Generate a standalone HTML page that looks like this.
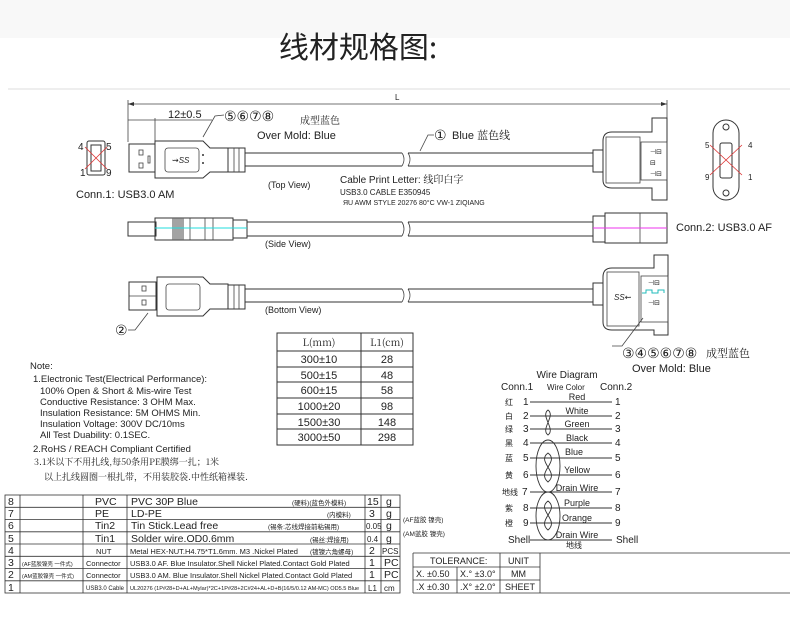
<!DOCTYPE html>
<html><head><meta charset="utf-8"><style>
html,body{margin:0;padding:0;background:#fff;}
svg{display:block;}
text{font-family:"Liberation Sans","DejaVu Sans","Noto Sans CJK SC",sans-serif;fill:#222;}
.cj{font-family:"Noto Serif CJK SC","Noto Sans CJK SC",serif;}
.s{fill:none;stroke:#333;stroke-width:1;}
.t{fill:none;stroke:#444;stroke-width:0.8;}
</style></head><body>
<svg width="790" height="618" viewBox="0 0 790 618" xmlns="http://www.w3.org/2000/svg">
<rect x="0" y="0" width="790" height="38" fill="#f8f8f8"/>
<text x="358" y="58" font-size="30" text-anchor="middle" style="font-family:'Noto Sans CJK SC',sans-serif" fill="#222">线材规格图:</text>
<line x1="8" y1="89" x2="790" y2="89" stroke="#ddd" stroke-width="1"/>

<line x1="128" y1="104" x2="667" y2="104" class="t"/>
<path d="M128,104 l6,-2 v4z M667,104 l-6,-2 v4z" fill="#333"/>
<text x="395" y="100" font-size="8">L</text>
<line x1="128" y1="100" x2="128" y2="142" class="t"/>
<line x1="667" y1="100" x2="667" y2="118" class="t"/>
<line x1="128" y1="120" x2="155" y2="120" class="t"/>
<line x1="155" y1="118" x2="155" y2="142" class="t"/>
<line x1="155" y1="120" x2="212" y2="120" class="t"/>
<text x="168" y="118" font-size="11">12±0.5</text>
<text x="224" y="121" font-size="14">⑤⑥⑦⑧</text>
<path d="M224,115 L215,116 L203,137" class="t"/>
<text x="300" y="124" font-size="10" class="cj">成型蓝色</text>
<text x="257" y="139" font-size="11">Over Mold: Blue</text>

<rect x="87" y="141" width="18" height="34" rx="2" class="s"/>
<rect x="91" y="145" width="10" height="26" class="s"/>
<path d="M85,147 L107,169 M107,147 L85,169" stroke="#d33" stroke-width="0.8"/>
<text x="78" y="150" font-size="10">4</text><text x="106" y="150" font-size="10">5</text>
<text x="80" y="176" font-size="10">1</text><text x="106" y="176" font-size="10">9</text>
<text x="76" y="198" font-size="11">Conn.1: USB3.0  AM</text>

<rect x="129" y="144" width="26" height="28" class="s"/>
<rect x="139" y="150" width="4" height="5" class="t"/><rect x="139" y="163" width="4" height="5" class="t"/><rect x="148" y="156" width="2" height="7" class="t"/>
<path d="M155,141 H203 L210,148 H228 V172 H210 L203,178 H155Z" class="s"/>
<rect x="165" y="148" width="34" height="24" rx="3" class="t"/>
<text x="172" y="163" font-size="8" font-style="italic">⇝SS</text>
<circle cx="203" cy="155" r="1" fill="#333"/><circle cx="203" cy="163" r="1" fill="#333"/>
<rect x="228" y="148" width="17" height="24" class="s"/>
<line x1="234" y1="148" x2="234" y2="172" class="t"/><line x1="239" y1="148" x2="239" y2="172" class="t"/>
<line x1="245" y1="153" x2="402" y2="153" class="s"/><line x1="245" y1="166" x2="402" y2="166" class="s"/>
<path d="M402,153 q4,6 0,13 M408,153 q4,6 0,13" class="t"/>
<line x1="408" y1="153" x2="593" y2="153" class="s"/><line x1="408" y1="166" x2="593" y2="166" class="s"/>
<text x="434" y="140" font-size="14">①</text><text x="452" y="139" font-size="11">Blue  <tspan class="cj">蓝色线</tspan></text>
<path d="M434,135 L428,135 L420,151" class="t"/>
<text x="268" y="188" font-size="9">(Top View)</text>
<text x="340" y="183" font-size="10">Cable Print Letter: <tspan class="cj">线印白字</tspan></text>
<text x="340" y="195" font-size="8">USB3.0 CABLE E350945</text>
<text x="343" y="205" font-size="7">ЯU AWM STYLE 20276 80°C VW-1 ZIQIANG</text>

<rect x="593" y="150" width="10" height="22" class="s"/>
<path d="M652,118 H667 V200 H652 V188 H612 Q603,188 603,180 V141 Q603,132 612,132 H652Z" class="s"/>
<rect x="606" y="137" width="34" height="46" class="t"/>
<rect x="641" y="142" width="26" height="38" class="t"/>
<text x="650" y="154" font-size="7">⊣⊟</text><text x="650" y="165" font-size="7">⊟</text><text x="650" y="176" font-size="7">⊣⊟</text>

<rect x="713" y="120" width="26" height="80" rx="13" class="s"/>
<circle cx="726" cy="127" r="3" class="s"/><circle cx="726" cy="193" r="3" class="s"/>
<rect x="720" y="143" width="12" height="35" rx="2" class="s"/>
<path d="M710,145 L742,175 M742,145 L710,175" stroke="#d33" stroke-width="0.8"/>
<text x="705" y="148" font-size="8">5</text><text x="748" y="148" font-size="8">4</text>
<text x="705" y="180" font-size="8">9</text><text x="748" y="180" font-size="8">1</text>

<rect x="128" y="222" width="28" height="14" class="s"/>
<rect x="155" y="218" width="78" height="22" class="s"/>
<rect x="172" y="218" width="12" height="22" fill="#666" opacity="0.6"/>
<line x1="190" y1="218" x2="190" y2="240" class="t"/><line x1="205" y1="218" x2="205" y2="240" class="t"/><line x1="213" y1="218" x2="213" y2="240" class="t"/>
<rect x="233" y="220" width="14" height="18" class="s"/>
<line x1="155" y1="228" x2="247" y2="228" stroke="#2dd" stroke-width="1"/>
<line x1="247" y1="222" x2="402" y2="222" class="s"/><line x1="247" y1="236" x2="402" y2="236" class="s"/>
<path d="M402,222 q4,7 0,14 M408,222 q4,7 0,14" class="t"/>
<line x1="408" y1="222" x2="593" y2="222" class="s"/><line x1="408" y1="236" x2="593" y2="236" class="s"/>
<rect x="593" y="216" width="12" height="26" class="s"/>
<rect x="605" y="213" width="62" height="30" class="s"/>
<line x1="640" y1="213" x2="640" y2="243" class="t"/>
<line x1="593" y1="228" x2="667" y2="228" stroke="#e3e" stroke-width="1"/>
<text x="265" y="247" font-size="9">(Side View)</text>
<text x="676" y="231" font-size="11">Conn.2: USB3.0  AF</text>

<rect x="129" y="282" width="27" height="28" class="s"/>
<line x1="129" y1="296" x2="156" y2="296" class="t"/>
<rect x="142" y="286" width="4" height="5" class="t"/><rect x="142" y="300" width="4" height="5" class="t"/>
<path d="M157,277 H203 L210,284 H228 V309 H210 L203,316 H157Z" class="s"/>
<rect x="166" y="284" width="34" height="26" rx="3" class="t"/>
<rect x="228" y="285" width="17" height="24" class="s"/>
<line x1="234" y1="285" x2="234" y2="309" class="t"/><line x1="239" y1="285" x2="239" y2="309" class="t"/>
<line x1="245" y1="289" x2="402" y2="289" class="s"/><line x1="245" y1="302" x2="402" y2="302" class="s"/>
<path d="M402,289 q4,6 0,13 M408,289 q4,6 0,13" class="t"/>
<line x1="408" y1="289" x2="593" y2="289" class="s"/><line x1="408" y1="302" x2="593" y2="302" class="s"/>
<text x="265" y="313" font-size="9">(Bottom View)</text>
<text x="115" y="335" font-size="14">②</text>
<path d="M128,330 L135,330 L148,313" class="t"/>
<rect x="593" y="283" width="10" height="22" class="s"/>
<path d="M654,255 H668 V335 H654 V330 H612 Q603,330 603,322 V277 Q603,268 612,268 H654Z" class="s"/>
<rect x="607" y="272" width="32" height="54" class="t"/>
<rect x="641" y="276" width="27" height="46" class="t"/>
<text x="614" y="300" font-size="8" font-style="italic">SS⇜</text>
<text x="648" y="285" font-size="7">⊣⊟</text><text x="648" y="305" font-size="7">⊣⊟</text>
<path d="M642,293 h4 v-3 h6 v3 h6 v-3 h6 v3" stroke="#2bb" fill="none" stroke-width="1"/>
<path d="M612,346 L622,346 L643,318" class="t"/>
<text x="622" y="358" font-size="14">③④⑤⑥⑦⑧</text><text x="706" y="357" font-size="11" class="cj">成型蓝色</text>
<text x="632" y="372" font-size="11">Over Mold: Blue</text>

<g>
<rect x="277" y="333" width="136" height="112" fill="none" stroke="#333"/>
<line x1="361" y1="333" x2="361" y2="445" stroke="#333"/>
<line x1="277" y1="351" x2="413" y2="351" stroke="#333"/>
<line x1="277" y1="367" x2="413" y2="367" stroke="#333"/>
<line x1="277" y1="382" x2="413" y2="382" stroke="#333"/>
<line x1="277" y1="398" x2="413" y2="398" stroke="#333"/>
<line x1="277" y1="414" x2="413" y2="414" stroke="#333"/>
<line x1="277" y1="429" x2="413" y2="429" stroke="#333"/>
</g>
<g font-size="11" text-anchor="middle">
<text x="319" y="346" class="cj" font-size="10">L(mm)</text><text x="387" y="346" class="cj" font-size="10">L1(cm)</text>
<text x="319" y="363">300±10</text><text x="387" y="363">28</text>
<text x="319" y="379">500±15</text><text x="387" y="379">48</text>
<text x="319" y="394">600±15</text><text x="387" y="394">58</text>
<text x="319" y="410">1000±20</text><text x="387" y="410">98</text>
<text x="319" y="426">1500±30</text><text x="387" y="426">148</text>
<text x="319" y="441">3000±50</text><text x="387" y="441">298</text>
</g>

<g font-size="9.5">
<text x="30" y="369">Note:</text>
<text x="33" y="382">1.Electronic Test(Electrical Performance):</text>
<text x="40" y="394">100% Open &amp; Short &amp; Mis-wire Test</text>
<text x="40" y="405">Conductive Resistance: 3 OHM Max.</text>
<text x="40" y="416">Insulation Resistance: 5M OHMS Min.</text>
<text x="40" y="427">Insulation Voltage: 300V DC/10ms</text>
<text x="40" y="438">All Test Duability: 0.1SEC.</text>
<text x="33" y="452">2.RoHS / REACH Compliant Certified</text>
</g>
<text x="34" y="465" font-size="9" class="cj" fill="#555">3.1米以下不用扎线,每50条用PE膜绑一扎；1米</text>
<text x="44" y="480" font-size="9" class="cj" fill="#555">以上扎线圆圈一根扎带，不用装胶袋.中性纸箱裸装.</text>

<g stroke="#333" stroke-width="0.8" fill="none">
<rect x="5" y="495" width="395" height="98"/>
<line x1="20" y1="495" x2="20" y2="593"/><line x1="83" y1="495" x2="83" y2="593"/>
<line x1="127" y1="495" x2="127" y2="593"/><line x1="365" y1="495" x2="365" y2="593"/>
<line x1="381" y1="495" x2="381" y2="593"/>
<line x1="5" y1="507.3" x2="400" y2="507.3"/><line x1="5" y1="519.5" x2="400" y2="519.5"/>
<line x1="5" y1="531.8" x2="400" y2="531.8"/><line x1="5" y1="544" x2="400" y2="544"/>
<line x1="5" y1="556.3" x2="400" y2="556.3"/><line x1="5" y1="568.5" x2="400" y2="568.5"/>
<line x1="5" y1="580.8" x2="400" y2="580.8"/>
</g>
<g font-size="10.5">
<text x="8" y="505">8</text><text x="8" y="517">7</text><text x="8" y="529">6</text><text x="8" y="542">5</text>
<text x="8" y="554">4</text><text x="8" y="566">3</text><text x="8" y="578">2</text><text x="8" y="591">1</text>
<text x="95" y="505">PVC</text><text x="95" y="517">PE</text><text x="95" y="529">Tin2</text><text x="95" y="542">Tin1</text>
<text x="131" y="505">PVC 30P Blue</text><text x="131" y="517">LD-PE</text>
<text x="131" y="529">Tin Stick.Lead free</text><text x="131" y="542">Solder wire.OD0.6mm</text>
<text x="367" y="505">15</text><text x="369" y="517">3</text>
<text x="386" y="505">g</text><text x="386" y="517">g</text><text x="386" y="529">g</text><text x="386" y="542">g</text>
<text x="369" y="554">2</text><text x="369" y="566">1</text><text x="369" y="578">1</text>
<text x="384" y="566">PC</text><text x="384" y="578">PC</text>
</g>
<g font-size="8">
<text x="366" y="529">0.05</text><text x="367" y="542">0.4</text><text x="382" y="554">PCS</text>
<text x="368" y="591">L1</text><text x="384" y="591">cm</text>
<text x="96" y="554" font-size="7.5">NUT</text>
<text x="86" y="566" font-size="7.5">Connector</text><text x="86" y="578" font-size="7.5">Connector</text>
<text x="86" y="590" font-size="6">USB3.0 Cable</text>
<text x="130" y="554" font-size="7.5">Metal HEX-NUT.H4.75*T1.6mm. M3 .Nickel Plated</text>
<text x="130" y="566" font-size="7.5">USB3.0 AF. Blue Insulator.Shell Nickel Plated.Contact Gold Plated</text>
<text x="130" y="578" font-size="7.5">USB3.0 AM. Blue Insulator.Shell Nickel Plated.Contact Gold Plated</text>
<text x="130" y="590" font-size="5.6">UL20276 (1P#28+D+AL+Mylar)*2C+1P#28+2C#24+AL+D+B(16/5/0.12 AM-MC) OD5.5 Blue</text>
</g>
<g font-size="6.5" class="cj" fill="#555">
<text x="292" y="505">(硬料)(蓝色外模料)</text><text x="327" y="517">(内模料)</text>
<text x="268" y="529">(锡条:芯线焊接前粘锡用)</text><text x="310" y="542">(锡丝:焊接用)</text>
<text x="310" y="554">(镀镍六角螺母)</text>
<text x="22" y="566" font-size="5.5">(AF蓝胶镍壳 一件式)</text><text x="22" y="578" font-size="5.5">(AM蓝胶镍壳 一件式)</text>
<text x="403" y="522">(AF蓝胶 镍壳)</text><text x="403" y="536">(AM蓝胶 镍壳)</text>
</g>

<text x="567" y="378" font-size="10" text-anchor="middle">Wire Diagram</text>
<text x="501" y="390" font-size="10">Conn.1</text>
<text x="547" y="390" font-size="8">Wire Color</text>
<text x="600" y="390" font-size="10">Conn.2</text>
<g font-size="10">
<text x="523" y="405">1</text><text x="523" y="419">2</text><text x="523" y="432">3</text><text x="523" y="446">4</text>
<text x="523" y="461">5</text><text x="523" y="478">6</text><text x="522" y="495">7</text><text x="523" y="511">8</text>
<text x="523" y="526">9</text><text x="508" y="543">Shell</text>
<text x="615" y="405">1</text><text x="615" y="419">2</text><text x="615" y="432">3</text><text x="615" y="446">4</text>
<text x="615" y="461">5</text><text x="615" y="478">6</text><text x="615" y="495">7</text><text x="615" y="511">8</text>
<text x="615" y="526">9</text><text x="616" y="543">Shell</text>
</g>
<g font-size="9" text-anchor="middle">
<text x="577" y="400">Red</text><text x="577" y="414">White</text><text x="577" y="427">Green</text><text x="577" y="441">Black</text>
<text x="574" y="455">Blue</text><text x="577" y="473">Yellow</text><text x="577" y="491">Drain Wire</text>
<text x="577" y="506">Purple</text><text x="577" y="521">Orange</text><text x="577" y="538">Drain Wire</text>
</g>
<g font-size="8" class="cj" fill="#555">
<text x="505" y="405">红</text><text x="505" y="419">白</text><text x="505" y="432">绿</text><text x="505" y="446">黑</text>
<text x="505" y="461">蓝</text><text x="505" y="478">黄</text><text x="502" y="495">地线</text><text x="505" y="511">紫</text>
<text x="505" y="526">橙</text><text x="566" y="548">地线</text>
</g>
<g stroke="#333" stroke-width="0.9" fill="none">
<line x1="530" y1="402" x2="612" y2="402"/><line x1="530" y1="416" x2="612" y2="416"/>
<line x1="530" y1="429" x2="612" y2="429"/><line x1="530" y1="443" x2="612" y2="443"/>
<line x1="530" y1="458" x2="612" y2="458"/><line x1="530" y1="475" x2="612" y2="475"/>
<line x1="530" y1="492" x2="612" y2="492"/><line x1="530" y1="508" x2="612" y2="508"/>
<line x1="530" y1="523" x2="612" y2="523"/><line x1="530" y1="540" x2="612" y2="540"/>
<path d="M548,410 C540,416 556,429 548,435 C540,429 556,416 548,410Z"/>
<path d="M548,453 C536,462 560,472 548,482 C536,472 560,462 548,453Z"/>
<path d="M548,501 C536,510 560,520 548,530 C536,520 560,510 548,501Z"/>
<ellipse cx="548" cy="466" rx="12" ry="26"/>
<ellipse cx="548" cy="516" rx="12" ry="24"/>
</g>

<g stroke="#333" stroke-width="0.8" fill="none">
<line x1="413" y1="553" x2="790" y2="553"/><line x1="413" y1="593" x2="790" y2="593"/>
<line x1="413" y1="553" x2="413" y2="593"/><line x1="500" y1="553" x2="500" y2="593"/>
<line x1="540" y1="553" x2="540" y2="593"/><line x1="457" y1="567" x2="457" y2="593"/>
<line x1="413" y1="567" x2="540" y2="567"/><line x1="413" y1="580" x2="540" y2="580"/>
</g>
<g font-size="9">
<text x="430" y="564">TOLERANCE:</text><text x="508" y="564">UNIT</text>
<text x="416" y="577">X.  ±0.50</text><text x="460" y="577">X.° ±3.0°</text><text x="511" y="577">MM</text>
<text x="416" y="590">.X  ±0.30</text><text x="460" y="590">.X° ±2.0°</text><text x="505" y="590">SHEET</text>
</g>
</svg>
</body></html>
